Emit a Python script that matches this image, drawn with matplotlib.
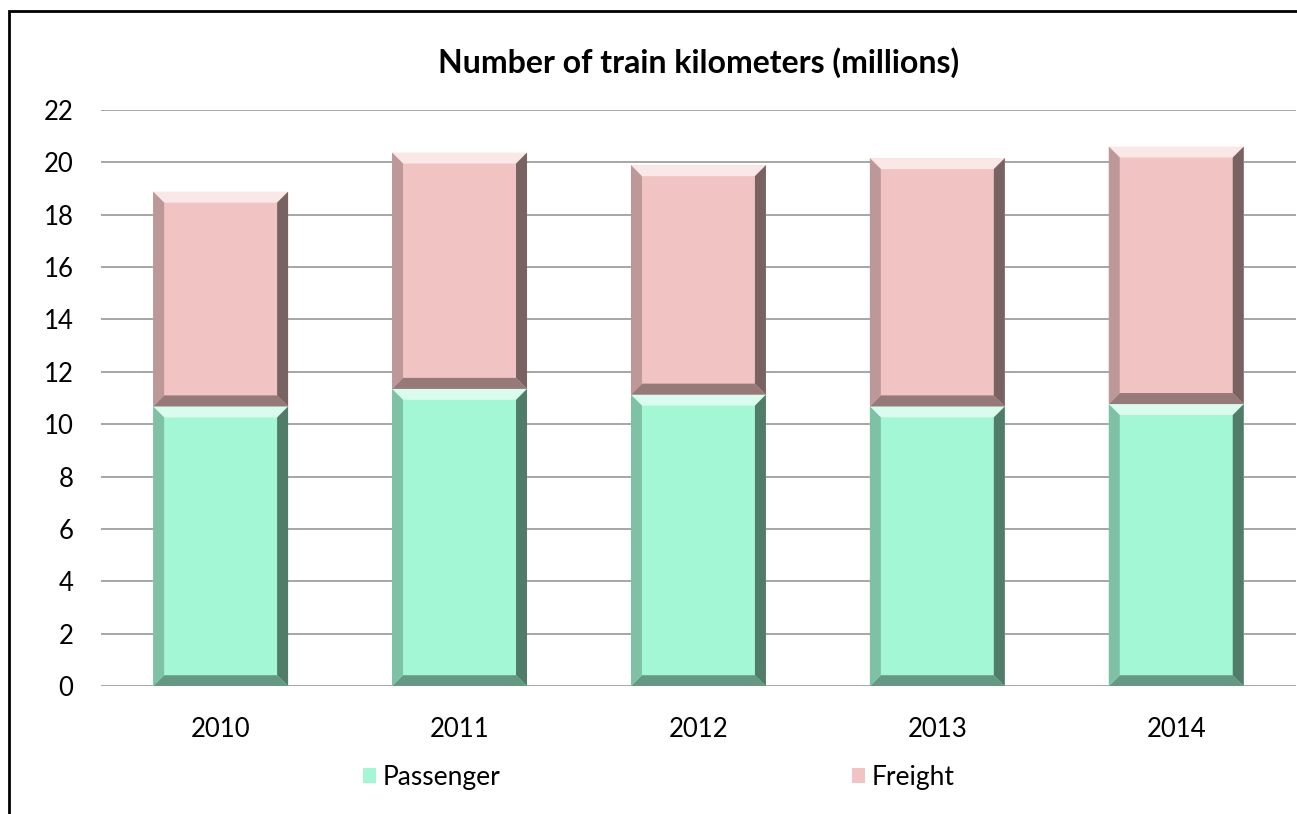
import matplotlib
matplotlib.use("Agg")
import matplotlib.pyplot as plt
from matplotlib.patches import Polygon, Rectangle
import numpy as np

years = ["2010", "2011", "2012", "2013", "2014"]
passenger = [10.68, 11.35, 11.13, 10.68, 10.77]
freight = [8.20, 9.02, 8.76, 9.48, 9.83]

PASS_COLOR = "#a3f7d4"
FREIGHT_COLOR = "#f2c3c3"
BAR_WIDTH = 0.565

plt.rcParams["font.family"] = ["Lato", "DejaVu Sans"]


def shade(color, factor):
    rgb = np.array(matplotlib.colors.to_rgb(color))
    if factor >= 1:
        return tuple(rgb + (1 - rgb) * (factor - 1))
    return tuple(rgb * factor)


# bevel look: light top, dark right/bottom, drawn over each bar
def bevel(ax, bars, color, bx, by):
    for b in bars:
        x0, y0 = b.get_x(), b.get_y()
        x1, y1 = x0 + b.get_width(), y0 + b.get_height()
        faces = [
            ([(x0, y1), (x1, y1), (x1 - bx, y1 - by), (x0 + bx, y1 - by)], shade(color, 1.6)),
            ([(x1, y1), (x1, y0), (x1 - bx, y0 + by), (x1 - bx, y1 - by)], shade(color, 0.5)),
            ([(x0, y0), (x1, y0), (x1 - bx, y0 + by), (x0 + bx, y0 + by)], shade(color, 0.62)),
            ([(x0, y0), (x0, y1), (x0 + bx, y1 - by), (x0 + bx, y0 + by)], shade(color, 0.78)),
        ]
        for pts, c in faces:
            ax.add_patch(Polygon(pts, closed=True, facecolor=c, edgecolor="none", zorder=3))


fig = plt.figure(figsize=(12.97, 8.14), dpi=100)
ax = fig.add_axes([0.078, 0.157, 0.921, 0.708])

x = np.arange(len(years))
p_bars = ax.bar(x, passenger, BAR_WIDTH, color=PASS_COLOR, label="Passenger", zorder=2)
f_bars = ax.bar(x, freight, BAR_WIDTH, bottom=passenger, color=FREIGHT_COLOR,
                label="Freight", zorder=2)

ax.set_xlim(-0.5, 4.5)
ax.set_ylim(0, 22)
ax.set_yticks(range(0, 23, 2))
ax.set_xticks(x)
ax.set_xticklabels(years)

# bevel size ~11 px in data units
bx = 11 / 239
by = 11 / 26.2
bevel(ax, p_bars, PASS_COLOR, bx, by)
bevel(ax, f_bars, FREIGHT_COLOR, bx, by)

ax.grid(axis="y", color="#a6a6a6", linewidth=1.4, zorder=0)
ax.set_axisbelow(True)
for s in ax.spines.values():
    s.set_visible(False)
ax.tick_params(axis="both", length=0, labelsize=18.5, colors="black")
ax.tick_params(axis="y", pad=20)
ax.tick_params(axis="x", pad=22)

ax.set_title("Number of train kilometers (millions)", fontsize=23, fontweight="bold", pad=27)

fig.legend(handles=[p_bars, f_bars], labels=["Passenger", "Freight"], loc="center",
           bbox_to_anchor=(0.508, 0.045), ncol=2, frameon=False, fontsize=19,
           handlelength=0.5, handleheight=0.5, handletextpad=0.25, columnspacing=13.3)

fig.add_artist(Rectangle((0.007, -0.01), 1.1, 0.996, transform=fig.transFigure,
                         fill=False, edgecolor="black", linewidth=2))

fig.savefig("out.png", dpi=100)
